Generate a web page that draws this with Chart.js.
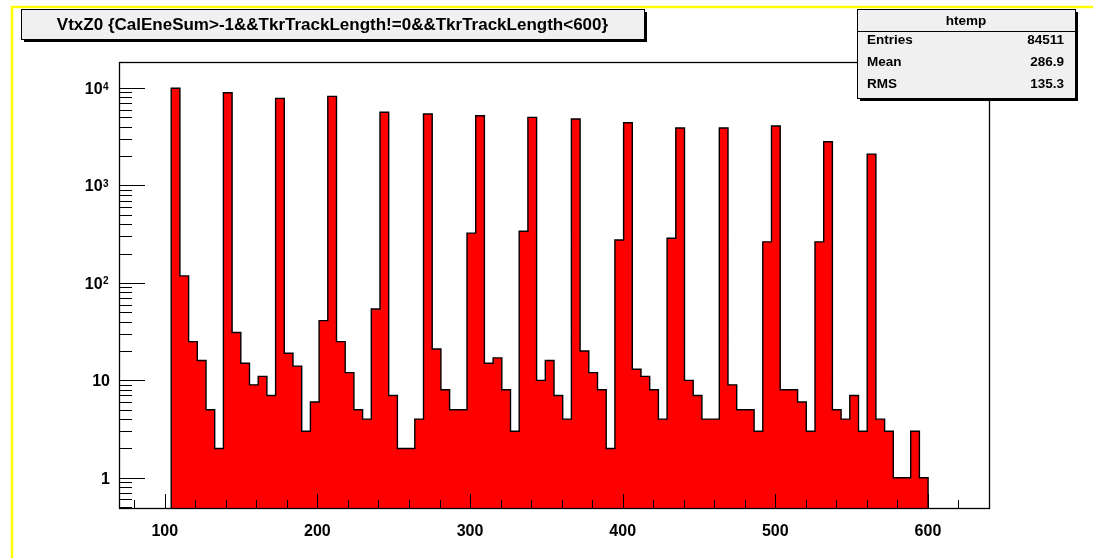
<!DOCTYPE html>
<html>
<head>
<meta charset="utf-8">
<title>VtxZ0</title>
<script src="https://cdn.jsdelivr.net/npm/chart.js@4/dist/chart.umd.min.js"></script>
<style>
  html, body { margin: 0; padding: 0; background: #ffffff; }
  canvas { display: block; }
</style>
</head>
<body>
<canvas id="c" width="1093" height="558"></canvas>
<script>
// Histogram binning of VtxZ0 (100 bins over the axis range, filled bins only listed)
const axisRange = [70, 640];
const binWidth = 5.7;
const firstBinLow = 104.2;

// Entries per bin, left to right
const binCounts = [
  9950, 118, 25, 16, 5, 2,
  8950, 31, 15, 9, 11, 7,
  7840, 19, 14, 3, 6, 41,
  8220, 25, 12, 5, 4, 54,
  5640, 7, 2, 2, 4,
  5410, 21, 8, 5, 5, 324,
  5200, 15, 17, 8, 3, 339,
  5000, 10, 16, 7, 4,
  4810, 20, 12, 8, 2, 276,
  4400, 13, 11, 8, 4, 287,
  3890, 10, 7, 4, 4,
  3890, 9, 5, 5, 3, 264,
  4080, 8, 8, 6, 3, 264,
  2810, 5, 4, 7, 3,
  2100, 4, 3, 1, 1, 3, 1
];

// Axis settings
const yRange = [0.49, 18500];
const xTickValues = [100, 200, 300, 400, 500, 600];
const yTickValues = [1, 10, 100, 1000, 10000];
// label = base text plus optional exponent
const yTickBases = ['1', '10', '10', '10', '10'];
const yTickExponents = ['', '', '2', '3', '4'];

// Stats box contents
const statsTitle = 'htemp';
const statsNames = ['Entries', 'Mean', 'RMS'];
const statsValues = ['84511', '286.9', '135.3'];
const plotTitle = 'VtxZ0 {CalEneSum>-1&&TkrTrackLength!=0&&TkrTrackLength<600}';

// Step outline: one point per bin edge; with 'before' stepping each segment
// runs across at the previous bin's height, then up or down at the edge
const outline = [{ x: firstBinLow, y: yRange[0] }];
binCounts.forEach((n, i) => outline.push({ x: firstBinLow + i * binWidth, y: n }));
const lastEdge = firstBinLow + binCounts.length * binWidth;
outline.push({ x: lastEdge, y: yRange[0] });

const FONT = '"Liberation Sans", Arial, Helvetica, sans-serif';

function shadowBox(ctx, x, y, w, h) {
  ctx.fillStyle = '#000000';
  ctx.fillRect(x + 3, y + 3, w, h);
  ctx.fillStyle = '#f0f0f0';
  ctx.fillRect(x, y, w, h);
  ctx.strokeStyle = '#000000';
  ctx.lineWidth = 1;
  ctx.strokeRect(x + 0.5, y + 0.5, w, h);
}

const rootDecor = {
  id: 'rootDecor',
  beforeDraw(chart) {
    const ctx = chart.ctx;
    ctx.save();
    ctx.fillStyle = '#ffffff';
    ctx.fillRect(0, 0, chart.width, chart.height);
    // canvas highlight border
    ctx.strokeStyle = '#ffff00';
    ctx.lineWidth = 2.5;
    ctx.beginPath();
    ctx.moveTo(12, chart.height);
    ctx.lineTo(12, 7);
    ctx.lineTo(chart.width, 7);
    ctx.stroke();
    ctx.restore();
  },
  afterDatasetsDraw(chart) {
    const ctx = chart.ctx;
    const a = chart.chartArea;
    const xs = chart.scales.x, ys = chart.scales.y;
    ctx.save();
    ctx.strokeStyle = '#000000';
    ctx.lineWidth = 1;
    ctx.beginPath();
    // y ticks: decades long, 2..9 short
    for (let e = -1; e <= 4; e++) {
      for (let m = 1; m <= 9; m++) {
        const v = m * Math.pow(10, e);
        if (v < yRange[0] || v > yRange[1]) continue;
        const py = Math.round(ys.getPixelForValue(v)) + 0.5;
        const len = m === 1 ? 26 : 13;
        ctx.moveTo(a.left, py);
        ctx.lineTo(a.left + len, py);
      }
    }
    // x ticks every 20, labelled every 100
    for (let v = 80; v <= 620; v += 20) {
      const px = Math.round(xs.getPixelForValue(v)) + 0.5;
      const len = v % 100 === 0 ? 14 : 8;
      ctx.moveTo(px, a.bottom);
      ctx.lineTo(px, a.bottom - len);
    }
    ctx.stroke();
    // frame
    ctx.lineWidth = 1.3;
    ctx.strokeRect(Math.round(a.left) + 0.5, Math.round(a.top) + 0.5,
      Math.round(a.right - a.left), Math.round(a.bottom - a.top));

    // y labels with raised exponents
    ctx.fillStyle = '#000000';
    ctx.textBaseline = 'alphabetic';
    ctx.textAlign = 'right';
    yTickValues.forEach((v, i) => {
      const py = ys.getPixelForValue(v);
      let right = a.left - 9;
      const exp = yTickExponents[i];
      if (exp) {
        right = a.left - 10.5;
        ctx.font = 'bold 10px ' + FONT;
        ctx.fillText(exp, right, py + 1.5);
        right -= ctx.measureText(exp).width + 0.3;
      }
      ctx.font = 'bold 16px ' + FONT;
      ctx.fillText(yTickBases[i], right, py + 6);
    });
    ctx.restore();
  },
  afterDraw(chart) {
    const ctx = chart.ctx;
    ctx.save();
    // title box
    shadowBox(ctx, 21, 9, 623, 30);
    ctx.fillStyle = '#000000';
    ctx.font = 'bold 17px ' + FONT;
    ctx.textAlign = 'center';
    ctx.textBaseline = 'middle';
    ctx.fillText(plotTitle, 332.5, 25);

    // stats box
    const bx = 857, by = 9, bw = 218, bh = 89;
    shadowBox(ctx, bx, by, bw, bh);
    ctx.beginPath();
    ctx.moveTo(bx, 31.5);
    ctx.lineTo(bx + bw, 31.5);
    ctx.stroke();
    ctx.fillStyle = '#000000';
    ctx.font = 'bold 13.5px ' + FONT;
    ctx.textAlign = 'center';
    ctx.fillText(statsTitle, bx + bw / 2, 21);
    const rowY = [40, 62, 84];
    statsNames.forEach((name, i) => {
      ctx.textAlign = 'left';
      ctx.fillText(name, 867, rowY[i]);
      ctx.textAlign = 'right';
      ctx.fillText(statsValues[i], 1064, rowY[i]);
    });
    ctx.restore();
  }
};

new Chart(document.getElementById('c'), {
  type: 'line',
  data: {
    datasets: [{
      data: outline,
      stepped: 'before',
      fill: 'start',
      backgroundColor: '#ff0000',
      borderColor: '#000000',
      borderWidth: 1.4,
      pointRadius: 0,
      tension: 0
    }]
  },
  options: {
    responsive: false,
    animation: false,
    devicePixelRatio: 1,
    layout: { padding: { top: 62, right: 104, left: 0, bottom: 0 } },
    plugins: { legend: { display: false }, tooltip: { enabled: false } },
    scales: {
      x: {
        type: 'linear',
        min: axisRange[0],
        max: axisRange[1],
        grid: { display: false },
        border: { display: false },
        ticks: {
          color: '#000000',
          font: { family: FONT, size: 16, weight: 'bold' },
          padding: 6,
          maxRotation: 0,
          autoSkip: false,
          callback: v => String(v)
        },
        afterBuildTicks: s => { s.ticks = xTickValues.map(v => ({ value: v })); },
        afterFit: s => { s.height = 50; }
      },
      y: {
        type: 'logarithmic',
        min: yRange[0],
        max: yRange[1],
        grid: { display: false },
        border: { display: false },
        ticks: { display: false },
        afterBuildTicks: s => { s.ticks = yTickValues.map(v => ({ value: v })); },
        afterFit: s => { s.width = 119; }
      }
    }
  },
  plugins: [rootDecor]
});
</script>
</body>
</html>
